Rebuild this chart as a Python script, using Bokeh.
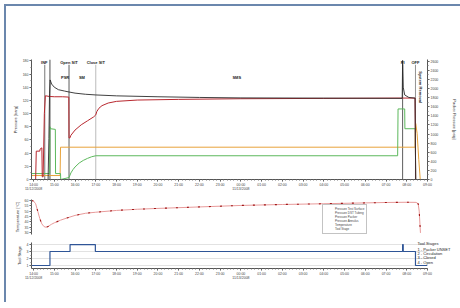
import math
from bokeh.plotting import figure
from bokeh.models import (Range1d, LinearAxis, FixedTicker, Label, Legend,
                          LegendItem, ColumnDataSource)
from bokeh.layouts import column
from bokeh.embed import file_html
from bokeh.resources import INLINE

FONT = "Liberation Sans"

# ---------------- data (time in hours after 14:00 on 11/12/2008) ----------------
hour_ticks = list(range(0, 20))
hour_labels = ["14:00\n11/12/2008", "15:00", "16:00", "17:00", "18:00", "19:00",
               "20:00", "21:00", "22:00", "23:00", "00:00\n11/13/2008", "01:00",
               "02:00", "03:00", "04:00", "05:00", "06:00", "07:00", "08:00", "09:00"]

surface_t = [-0.1, 0.10, 0.13, 0.30, 0.31, 0.40, 0.42, 0.46, 0.52, 0.57, 0.75, 1.0,
             1.4, 1.70, 1.71, 1.75, 1.8, 2.0, 2.3, 2.6, 2.9, 3.0, 3.05, 3.15, 3.3,
             3.6, 4.0, 5.0, 7.0, 10.0, 14.0, 17.8, 18.40, 18.43, 19.0]
surface_p = [0, 0, 43, 43, 46, 48, 4, 4, 100, 127, 126, 125.5, 125.5, 125, 63, 63,
             67, 75, 83, 89, 95, 98, 103, 108, 112, 116, 118.5, 120.5, 121.5, 122.5,
             123, 123.5, 123.5, 0, 0]

tubing_t = [-0.1, 0.78, 0.79, 0.82, 1.05, 1.06, 1.30, 1.31, 1.71, 1.8, 1.9, 2.0, 2.2,
            2.4, 2.6, 2.8, 3.0, 17.56, 17.58, 17.9, 17.91, 18.41, 18.43, 19.0]
tubing_p = [9, 9, 80, 77, 76, 9, 9, 0, 3, 10, 15, 19, 25, 29, 32, 34.5, 36, 36, 107,
            107, 77, 77, 0, 0]

packer_t = [-0.1, 0.70, 0.74, 0.77, 0.80, 0.87, 1.0, 1.2, 1.5, 1.71, 2.0, 2.5, 3.0,
            4.0, 6.0, 8.0, 10.0, 14.0, 17.78, 17.80, 17.83, 17.9, 18.1, 18.40, 18.43, 19.0]
packer_psi = [0, 0, 900, 1900, 2190, 2100, 2030, 1975, 1945, 1925, 1900, 1875, 1860,
              1840, 1820, 1805, 1795, 1790, 1785, 2620, 2030, 1860, 1805, 1790, 0, 0]

annulus_t = [-0.1, 1.28, 1.30, 18.40, 18.43, 18.5, 18.58, 18.65, 19.0]
annulus_p = [6, 6, 49, 49, 85, 70, 30, 0, 0]

temp_t = [-0.1, 0.0, 0.1, 0.2, 0.3, 0.4, 0.5, 0.6, 0.7, 0.85, 1.0, 1.3, 1.6, 2.0, 2.5,
          3.0, 4.0, 5.0, 6.0, 8.0, 10.0, 12.0, 14.0, 16.0, 17.0, 18.0, 18.45, 18.55,
          18.6, 18.66]
temp_c = [60, 59.5, 57, 50, 43, 38, 35.5, 34.8, 35.5, 37.5, 39, 41.5, 43.5, 46, 48,
          49, 50.7, 51.8, 52.6, 54, 55.4, 56.3, 57, 57.8, 58.2, 58.4, 58.3, 57, 50, 29.5]

stage_t = [-0.1, 0.79, 1.76, 2.98, 17.8, 17.83, 18.42, 19.0]
stage_v = [1, 3, 4, 3, 4, 3, 1, 1]

event_t = [0.54, 0.79, 1.71, 3.0, 17.8, 18.42]
event_names = ["INF", "Close SIT", "Open SIT", "Close SIT", "PI", "OFF"]

zone_t = [1.52, 2.33, 9.8]
zone_names = ["PSR", "SM", "SMS"]

stage_names = ["Tool Stages", "1 - Packer UNSET", "2 - Circulation", "3 - Closed", "4 - Open"]

# ---------------- styling helpers ----------------
X_RANGE = Range1d(-0.1, 19.0)


def style_axis(ax):
    ax.axis_line_color = "#555555"
    ax.major_tick_line_color = "#555555"
    ax.minor_tick_line_color = "#777777"
    ax.major_tick_in = 0
    ax.major_tick_out = 2
    ax.minor_tick_in = 0
    ax.minor_tick_out = 1
    ax.major_label_text_font_size = "3.5px"
    ax.major_label_text_font = FONT
    ax.major_label_text_color = "#444444"
    ax.major_label_standoff = 1
    ax.axis_label_text_font_size = "4px"
    ax.axis_label_text_font = FONT
    ax.axis_label_text_font_style = "normal"
    ax.axis_label_text_color = "#333333"
    ax.axis_label_standoff = 2


def style_xaxis(ax):
    ax.ticker = FixedTicker(ticks=hour_ticks,
                            minor_ticks=[i / 6 for i in range(0, 19 * 6 + 1)])
    ax.major_label_overrides = {t: l for t, l in zip(hour_ticks, hour_labels)}
    style_axis(ax)


def make_fig(height, y_range, top, bottom, xaxis=True):
    f = figure(width=454, height=height, x_range=X_RANGE, y_range=y_range,
               output_backend="svg", toolbar_location=None,
               x_axis_location="below" if xaxis else None,
               min_border_left=25, min_border_right=30,
               min_border_top=top, min_border_bottom=bottom,
               outline_line_color=None, background_fill_color="white",
               border_fill_color="white")
    f.grid.visible = False
    return f


# ---------------- pressure panel ----------------
p1 = make_fig(190, Range1d(0, 182), 53, 17)
p1.extra_y_ranges = {"psi": Range1d(0, 182 * 14.5038)}
style_xaxis(p1.xaxis[0])
p1.yaxis[0].ticker = FixedTicker(ticks=list(range(0, 181, 20)),
                                 minor_ticks=list(range(0, 181, 10)))
p1.yaxis[0].axis_label = "Pressure [barg]"
style_axis(p1.yaxis[0])
ax_r = LinearAxis(y_range_name="psi", axis_label="Packer Pressure [psig]",
                  ticker=FixedTicker(ticks=list(range(0, 2601, 200)),
                                     minor_ticks=list(range(0, 2601, 100))))
style_axis(ax_r)
ax_r.axis_label_standoff = 11
p1.add_layout(ax_r, "right")

ev_colors = ["#555555", "#222222", "#333333", "#aaaaaa", "#333333", "#777777"]
ev_top = [174, 182, 174, 174, 174, 174]
p1.segment(x0=event_t, y0=[0] * len(event_t), x1=event_t, y1=ev_top,
           line_color=ev_colors, line_width=0.8)

p1.line(annulus_t, annulus_p, line_color="#e8a33a", line_width=1)
p1.line(tubing_t, tubing_p, line_color="#5cb85c", line_width=1)
p1.line(surface_t, surface_p, line_color="#b8282f", line_width=1)
p1.line(packer_t, packer_psi, line_color="#2b2b2b", line_width=0.9, y_range_name="psi")

ev_y = [177, 188, 177, 177, 177, 177]
ev_dx = [-0.5, -4, 0, 0, 0, 0]
for t, name, ly, dx in zip(event_t, event_names, ev_y, ev_dx):
    p1.add_layout(Label(x=t, y=ly, text=name, x_offset=dx, text_align="center",
                        text_baseline="middle", text_font_size="4px",
                        text_font=FONT, text_font_style="bold", text_color="#222222"))
for t, name in zip(zone_t, zone_names):
    p1.add_layout(Label(x=t, y=155, text=name, text_align="center",
                        text_baseline="middle", text_font_size="4px",
                        text_font=FONT, text_font_style="bold", text_color="#222222"))
p1.add_layout(Label(x=18.66, y=140, text="System Removal", angle=-math.pi / 2,
                    text_align="center", text_baseline="middle", text_font_size="4px",
                    text_font=FONT, text_font_style="bold", text_color="#222222"))

# ---------------- temperature panel ----------------
p2 = make_fig(42, Range1d(28, 61), 3, 4, xaxis=False)
p2.yaxis[0].ticker = FixedTicker(ticks=list(range(30, 61, 5)),
                                 minor_ticks=[30 + 2.5 * i for i in range(13)])
p2.yaxis[0].axis_label = "Temperature [°C]"
style_axis(p2.yaxis[0])
p2.line(temp_t, temp_c, line_color="#e89a9a", line_width=1)
p2.line(temp_t, temp_c, line_color="#a01818", line_width=1.1, line_dash="2 9")

empty = lambda: ColumnDataSource(data=dict(x=[], y=[]))
r_s = p2.line("x", "y", source=empty(), line_color="#b8282f", line_width=1)
r_t = p2.line("x", "y", source=empty(), line_color="#5cb85c", line_width=1)
r_p = p2.line("x", "y", source=empty(), line_color="#2b2b2b", line_width=1)
r_a = p2.line("x", "y", source=empty(), line_color="#e8a33a", line_width=1)
r_te = p2.line("x", "y", source=empty(), line_color="#e89a9a", line_width=1)
r_ts = p2.line("x", "y", source=empty(), line_color="#2f5597", line_width=1)
legend = Legend(items=[LegendItem(label="Pressure Test Surface", renderers=[r_s]),
                       LegendItem(label="Pressure DST Tubing", renderers=[r_t]),
                       LegendItem(label="Pressure Packer", renderers=[r_p]),
                       LegendItem(label="Pressure Annulus", renderers=[r_a]),
                       LegendItem(label="Temperature", renderers=[r_te]),
                       LegendItem(label="Tool Stage", renderers=[r_ts])],
                location=(291, 0), label_text_font_size="3px", label_text_font=FONT,
                label_height=4, glyph_height=4, glyph_width=8, label_standoff=2,
                spacing=0, padding=2, margin=0, border_line_color="#888888",
                border_line_width=0.6, background_fill_alpha=1)
p2.add_layout(legend)

# ---------------- tool stage panel ----------------
p3 = make_fig(64, Range1d(0.57, 4.29), 4, 34)
style_xaxis(p3.xaxis[0])
p3.yaxis[0].ticker = FixedTicker(ticks=[1, 2, 3, 4], minor_ticks=[1, 1.5, 2, 2.5, 3, 3.5, 4])
p3.yaxis[0].axis_label = "Tool Stage"
style_axis(p3.yaxis[0])
p3.ygrid.visible = True
p3.ygrid.grid_line_color = "#cfcfcf"
p3.ygrid.grid_line_width = 0.6
p3.step(stage_t, stage_v, mode="after", line_color="#2f5597", line_width=1.2)

# tool-stage key, drawn as the labels of a bare right-hand axis
stage_key_y = [4.2, 3.35, 2.72, 2.1, 1.45]
ax_key = LinearAxis(ticker=FixedTicker(ticks=stage_key_y, minor_ticks=[]),
                    major_label_overrides=dict(zip(stage_key_y, stage_names)))
ax_key.axis_line_color = None
ax_key.major_tick_line_color = None
ax_key.minor_tick_line_color = None
ax_key.major_tick_in = 0
ax_key.major_tick_out = 0
ax_key.major_label_standoff = -10
ax_key.major_label_text_font_size = "4px"
ax_key.major_label_text_font = FONT
ax_key.major_label_text_color = "#222222"
p3.add_layout(ax_key, "right")

layout = column(p1, p2, p3, styles={"border-left": "2px solid #6b87ad",
                                    "border-top": "2px solid #6b87ad",
                                    "margin": "4px 0 0 4px"})
open("out.html", "w").write(file_html(layout, INLINE))
